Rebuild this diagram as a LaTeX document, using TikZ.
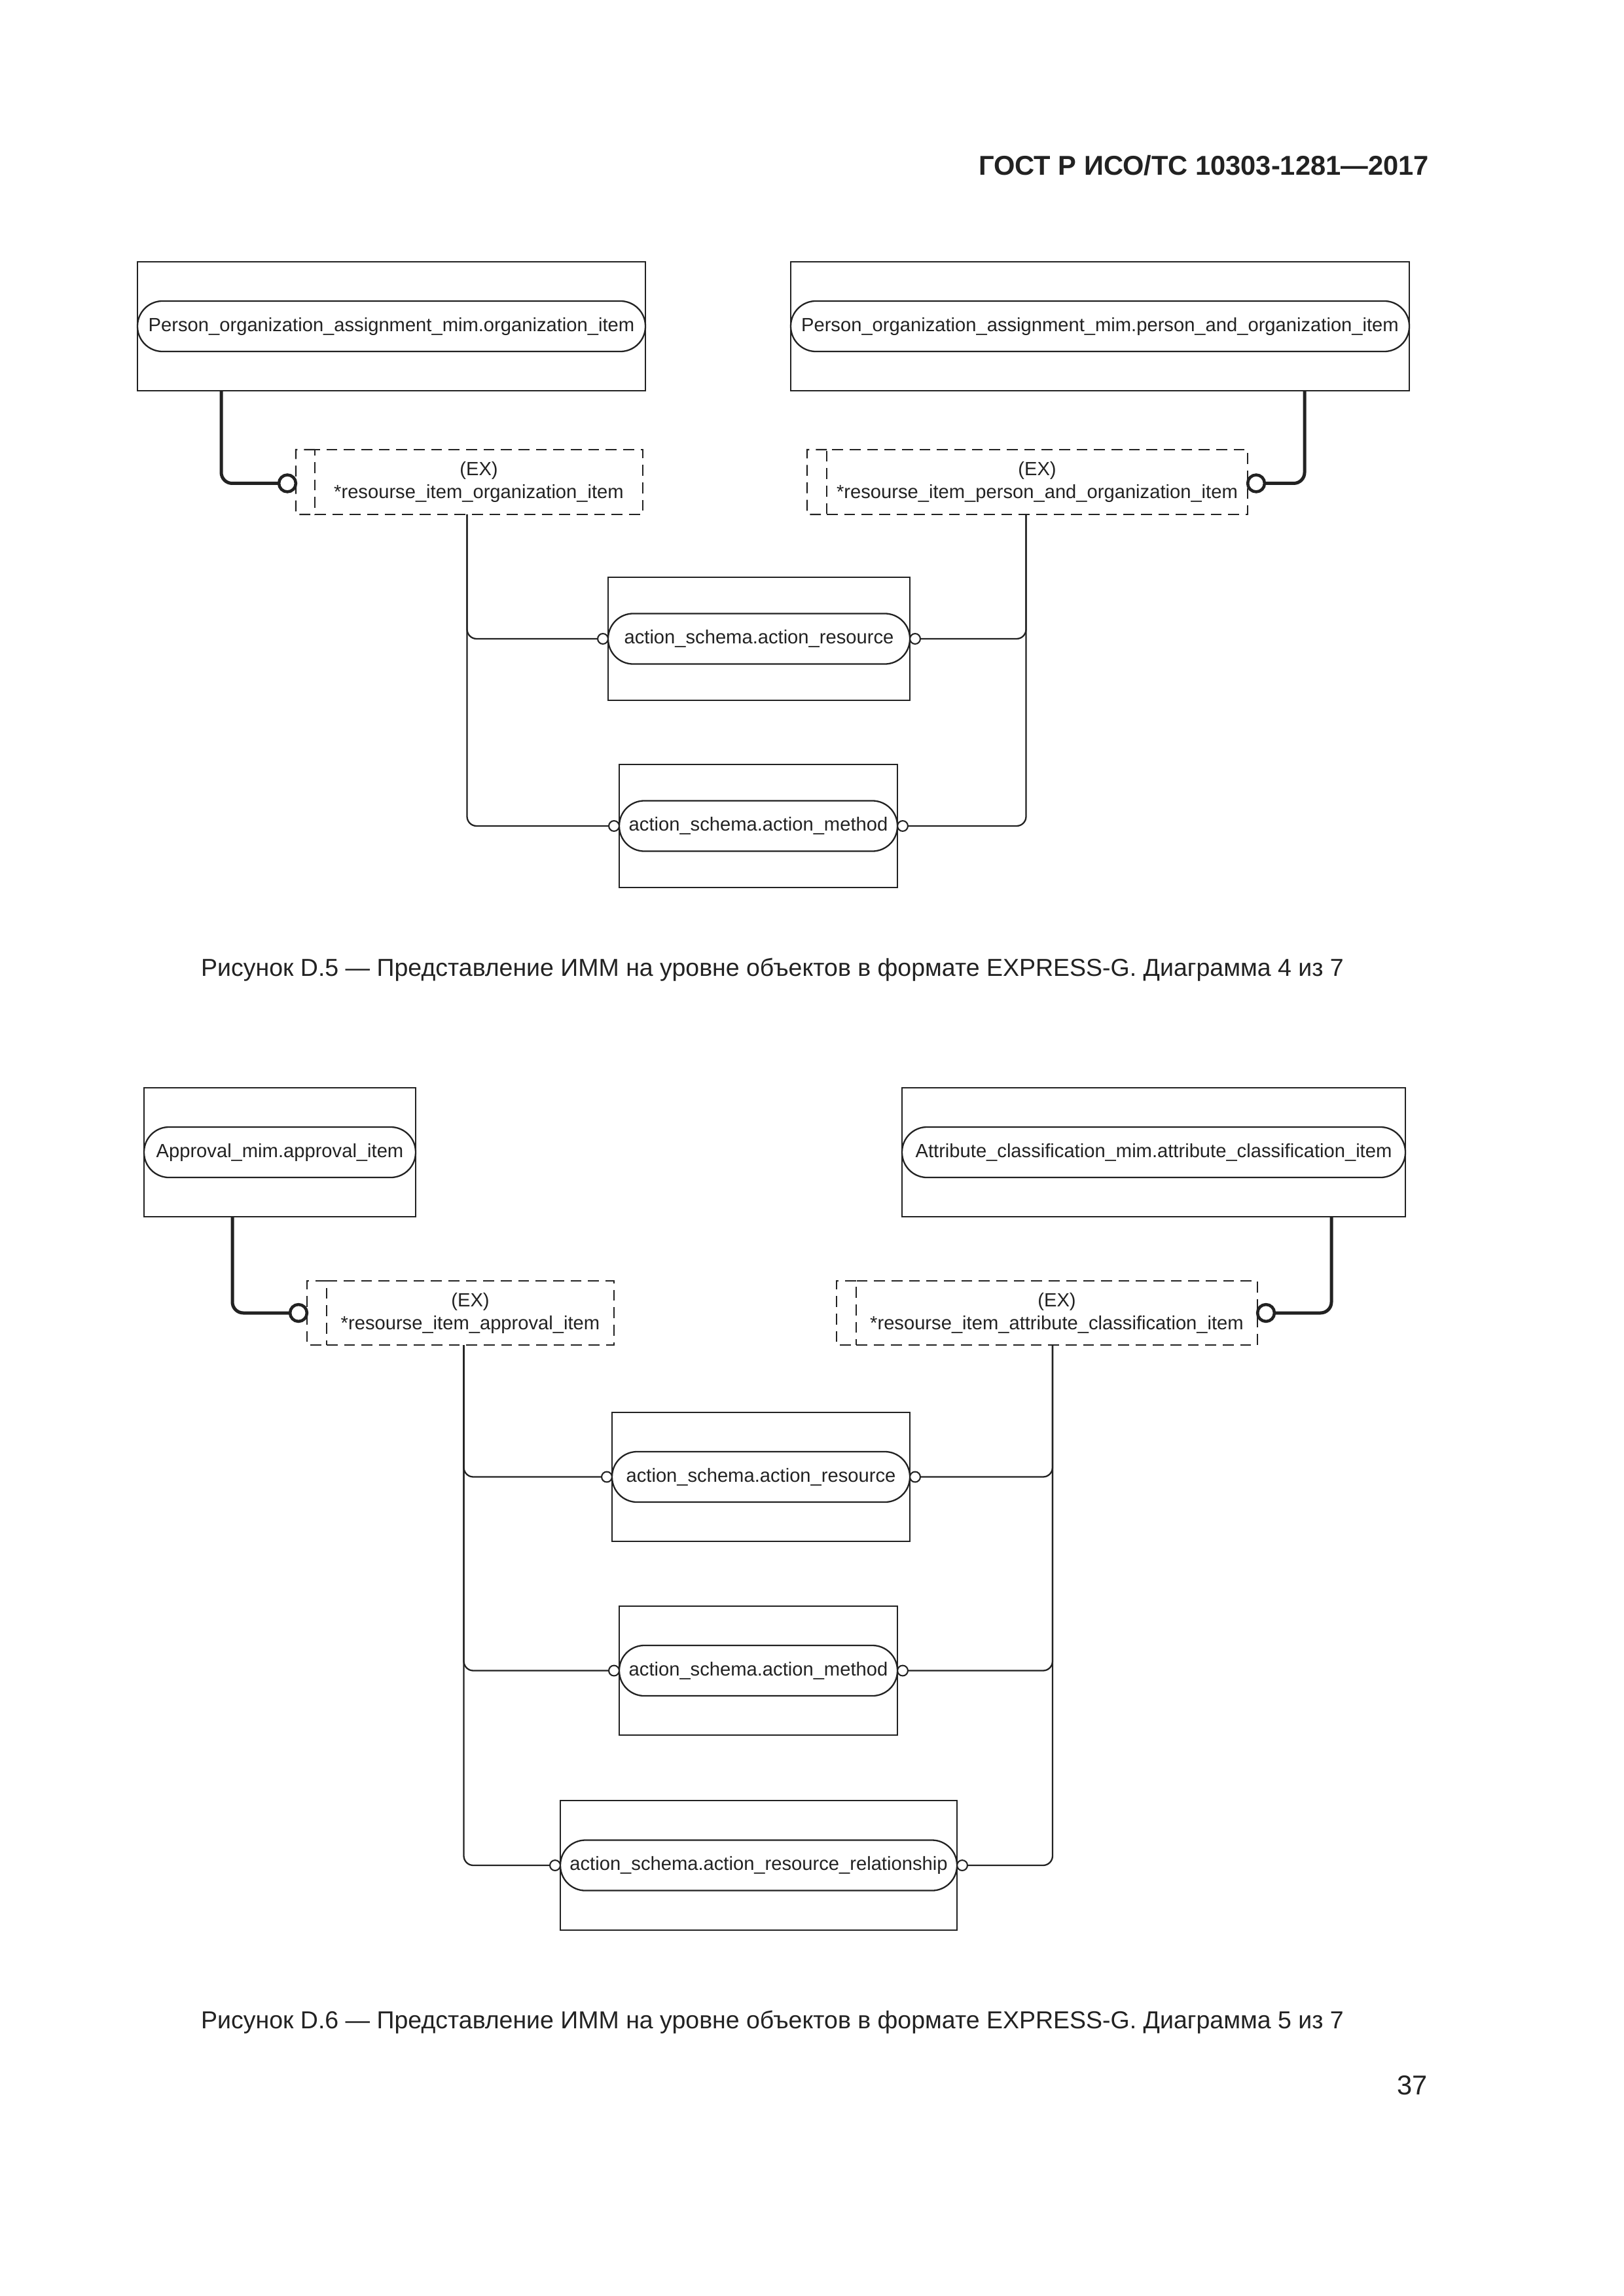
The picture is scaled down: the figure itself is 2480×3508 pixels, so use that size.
\documentclass[tikz,border=0pt]{standalone}
\usepackage{fontspec}
\setmainfont{Liberation Sans}
\usetikzlibrary{calc}
\definecolor{ink}{HTML}{222222}
\begin{document}
\begin{tikzpicture}[x=0.24pt,y=-0.24pt,
  every node/.style={inner sep=0pt, outer sep=0pt, text=ink},
  entbox/.style 2 args={draw=ink, line width=0.6pt, minimum width=#1*0.24pt, minimum height=#2*0.24pt},
  oval/.style={draw=ink, line width=0.55pt, rounded corners=9.2pt, minimum width=#1*0.24pt, minimum height=18.5pt, fill=white, font=\fontsize{7}{8.4}\selectfont},
  selbox/.style 2 args={draw=ink, dash pattern=on 4pt off 2.4pt, line width=0.55pt, minimum width=#1*0.24pt, minimum height=#2*0.24pt, align=center, font=\fontsize{7}{8.4}\selectfont},
  selstrip/.style={draw=ink, dash pattern=on 4pt off 2.4pt, line width=0.55pt},
  smallring/.style={circle, draw=ink, line width=0.5pt, fill=white, minimum size=3.8pt},
  bigring/.style={circle, draw=ink, line width=1.1pt, fill=white, minimum size=6.2pt},
  link/.style={draw=ink, line width=0.55pt, rounded corners=3.5pt},
  thicklink/.style={draw=ink, line width=1.2pt, rounded corners=4pt},
  caption/.style={font=\fontsize{9}{11}\selectfont},
]
\useasboundingbox[fill=white] (0,0) rectangle (2480,3508);

% header
\node[anchor=east, font=\fontsize{10}{12}\bfseries\selectfont] (hdr) at (2183,253) {ГОСТ Р ИСО/ТС 10303-1281—2017};

% ===== Figure D.5 =====
\node[entbox={776}{197}] (A) at (598,498.5) {};
\node[oval=776] (Ao) at (A.center) {Person\_organization\_assignment\_mim.organization\_item};
\node[entbox={945}{197}] (B) at (1680.5,498.5) {};
\node[oval=945] (Bo) at (B.center) {Person\_organization\_assignment\_mim.person\_and\_organization\_item};

\node[selbox={501}{99}] (C) at (731.5,736.5) {(EX)\\*resourse\_item\_organization\_item};
\draw[selstrip] (C.north west) -- ++(-29,0) -- ++(0,99) -- (C.south west);
\node[selbox={643}{99}] (D) at (1584.5,736.5) {(EX)\\*resourse\_item\_person\_and\_organization\_item};
\draw[selstrip] (D.north west) -- ++(-30,0) -- ++(0,99) -- (D.south west);

\node[bigring] (cA) at ($(C.west)+(-42,2)$) {};
\node[bigring] (cB) at ($(D.east)+(13,2)$) {};
\draw[thicklink] ($(A.south west)+(128,0)$) |- (cA.west);
\draw[thicklink] ($(B.south west)+(785,0)$) |- (cB.east);

\node[entbox={461}{188}] (E) at (1159.5,976) {};
\node[oval=461] (Eo) at (E.center) {action\_schema.action\_resource};
\node[entbox={425}{188}] (F) at (1158.5,1262) {};
\node[oval=425] (Fo) at (F.center) {action\_schema.action\_method};

\node[smallring] (eL) at ($(Eo.west)+(-8,0)$) {};
\node[smallring] (eR) at ($(Eo.east)+(8,0)$) {};
\node[smallring] (fL) at ($(Fo.west)+(-8,0)$) {};
\node[smallring] (fR) at ($(Fo.east)+(8,0)$) {};

\draw[link] ($(C.south)+(-18,0)$) |- (fL.west);
\draw[link] ($(C.south)+(-18,0)$) |- (eL.west);
\draw[link] ($(D.south)+(-17,0)$) |- (fR.east);
\draw[link] ($(D.south)+(-17,0)$) |- (eR.east);

\node[caption] (cap5) at (1180,1482) {Рисунок D.5 — Представление ИММ на уровне объектов в формате EXPRESS-G. Диаграмма 4 из 7};

% ===== Figure D.6 =====
\node[entbox={415}{197}] (G) at (427.5,1760.5) {};
\node[oval=415] (Go) at (G.center) {Approval\_mim.approval\_item};
\node[entbox={769}{197}] (H) at (1762.5,1760.5) {};
\node[oval=769] (Ho) at (H.center) {Attribute\_classification\_mim.attribute\_classification\_item};

\node[selbox={439}{98}] (I) at (718.5,2006) {(EX)\\*resourse\_item\_approval\_item};
\draw[selstrip] (I.north west) -- ++(-30,0) -- ++(0,98) -- (I.south west);
\node[selbox={613}{98}] (J) at (1614.5,2006) {(EX)\\*resourse\_item\_attribute\_classification\_item};
\draw[selstrip] (J.north west) -- ++(-30,0) -- ++(0,98) -- (J.south west);

\node[bigring] (cG) at ($(I.west)+(-43,0)$) {};
\node[bigring] (cH) at ($(J.east)+(13,0)$) {};
\draw[thicklink] ($(G.south west)+(135,0)$) |- (cG.west);
\draw[thicklink] ($(H.south west)+(656,0)$) |- (cH.east);

\node[entbox={455}{197}] (K) at (1162.5,2256.5) {};
\node[oval=455] (Ko) at (K.center) {action\_schema.action\_resource};
\node[entbox={425}{197}] (L) at (1158.5,2552.5) {};
\node[oval=425] (Lo) at (L.center) {action\_schema.action\_method};
\node[entbox={606}{198}] (M) at (1159,2850) {};
\node[oval=606] (Mo) at (M.center) {action\_schema.action\_resource\_relationship};

\node[smallring] (kL) at ($(Ko.west)+(-8,0)$) {};
\node[smallring] (kR) at ($(Ko.east)+(8,0)$) {};
\node[smallring] (lL) at ($(Lo.west)+(-8,0)$) {};
\node[smallring] (lR) at ($(Lo.east)+(8,0)$) {};
\node[smallring] (mL) at ($(Mo.west)+(-8,0)$) {};
\node[smallring] (mR) at ($(Mo.east)+(8,0)$) {};

\draw[link] ($(I.south)+(-10,0)$) |- (mL.west);
\draw[link] ($(I.south)+(-10,0)$) |- (lL.west);
\draw[link] ($(I.south)+(-10,0)$) |- (kL.west);
\draw[link] ($(J.south)+(-6.5,0)$) |- (mR.east);
\draw[link] ($(J.south)+(-6.5,0)$) |- (lR.east);
\draw[link] ($(J.south)+(-6.5,0)$) |- (kR.east);

\node[caption] (cap6) at (1180,3090) {Рисунок D.6 — Представление ИММ на уровне объектов в формате EXPRESS-G. Диаграмма 5 из 7};

\node[anchor=east, font=\fontsize{10}{12}\selectfont] (pg) at (2181,3186) {37};
\end{tikzpicture}
\end{document}
